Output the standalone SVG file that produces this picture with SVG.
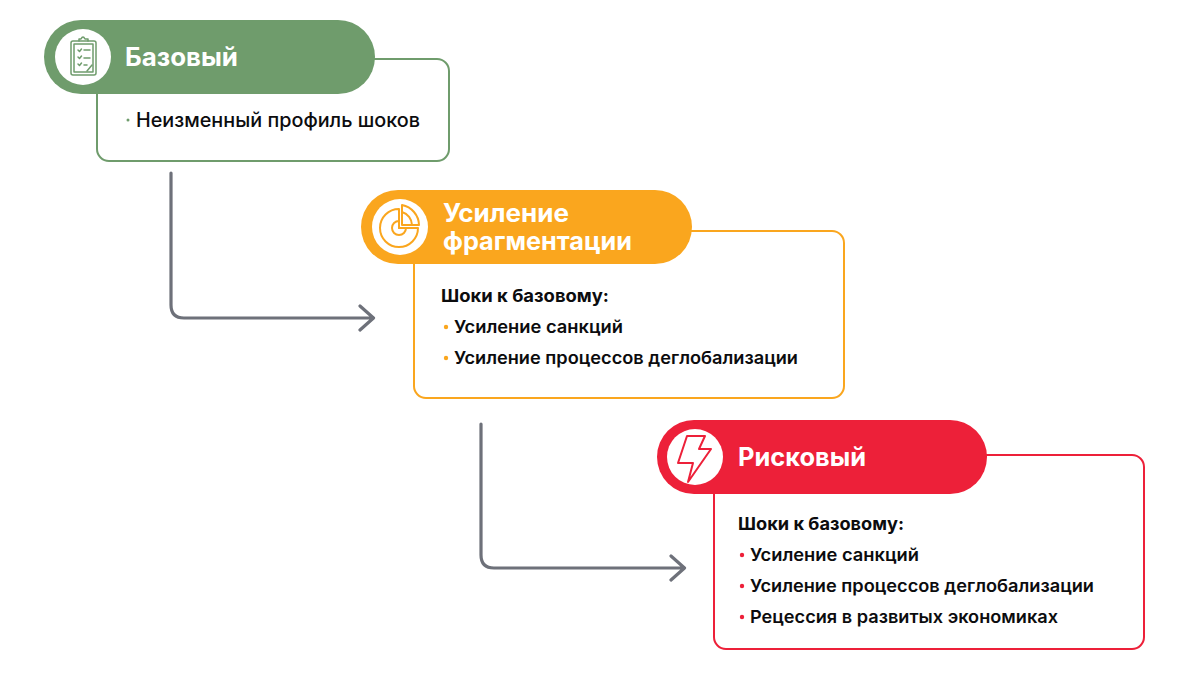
<svg xmlns="http://www.w3.org/2000/svg" width="1200" height="684" viewBox="0 0 1200 684">
<style>
text{font-family:"Inter","Liberation Sans",sans-serif}
.t{font-size:25px;font-weight:700;fill:#fff}
.b{font-size:17.500px;font-weight:600;fill:#0c0c0e}
.h{font-size:17.500px;font-weight:700;fill:#0c0c0e}
.card{fill:#fff;stroke-width:2}
.conn{fill:none;stroke:#6e717a;stroke-width:3.2;stroke-linecap:round;stroke-linejoin:round}
.ic{fill:none;stroke-width:2;stroke-linecap:round;stroke-linejoin:round}
</style>
<rect width="1200" height="684" fill="#fff"/>
<g id="connectors" class="conn">
<path d="M171 173V305Q171 318 184 318H373M360 306L373.500 318L360 330"/>
<path d="M481 424V555Q481 568 494 568H684M671 556L684.500 568L671 580"/>
</g>
<g id="node-base">
<rect class="card" x="97" y="59" width="352" height="102" rx="12" stroke="#6f9c6c"/>
<rect x="44" y="20" width="331" height="74" rx="37" fill="#6f9c6c"/>
<circle cx="83" cy="57" r="28" fill="#fff"/>
<g class="ic" stroke="#6f9c6c" style="stroke-width:1.500">
<rect x="71" y="41" width="25" height="34" rx="2"/>
<rect x="74" y="44" width="19" height="28"/>
<path d="M79 41V39H81Q83 35 85 39H88V41M78 50L79.500 51.500L81.500 49M84 50H90M78 57L79.500 58.500L81.500 56M84 58H90M78 64L79.500 65.500L81.500 63M84 65H87M87 71L92 65"/>
</g>
<text class="t" x="125" y="66" textLength="113" lengthAdjust="spacingAndGlyphs">Базовый</text>
<circle cx="128" cy="120" r="1.500" fill="#6f9c6c"/>
<text x="136" y="127" font-size="19.500" font-weight="500" fill="#0c0c0e" textLength="284" lengthAdjust="spacingAndGlyphs">Неизменный профиль шоков</text>
</g>
<g id="node-fragmentation">
<rect class="card" x="414" y="231" width="430" height="167" rx="12" stroke="#faa61e"/>
<rect x="361" y="190" width="331" height="74" rx="37" fill="#faa61e"/>
<circle cx="400" cy="227" r="28" fill="#fff"/>
<g class="ic" stroke="#faa61e">
<path d="M399 209A19 19 0 1 0 418 228H399Z"/>
<path d="M399 221A7 7 0 1 0 406 228H399Z"/>
<path d="M402 205A21 21 0 0 1 419 225H402Z"/>
<path d="M402 212A14 14 0 0 1 412 225"/>
</g>
<text class="t" x="443" y="222" textLength="126" lengthAdjust="spacingAndGlyphs">Усиление</text>
<text class="t" x="443" y="250" textLength="189" lengthAdjust="spacingAndGlyphs">фрагментации</text>
<text class="h" x="441" y="302" textLength="168" lengthAdjust="spacingAndGlyphs">Шоки к базовому:</text>
<circle cx="446" cy="327" r="2.200" fill="#faa61e"/>
<text class="b" x="454" y="333" textLength="169" lengthAdjust="spacingAndGlyphs">Усиление санкций</text>
<circle cx="446" cy="358" r="2.200" fill="#faa61e"/>
<text class="b" x="454" y="364" textLength="344" lengthAdjust="spacingAndGlyphs">Усиление процессов деглобализации</text>
</g>
<g id="node-risk">
<rect class="card" x="714" y="455" width="430" height="194" rx="12" stroke="#ed2039"/>
<rect x="657" y="420" width="330" height="74" rx="37" fill="#ed2039"/>
<circle cx="695" cy="457" r="28" fill="#fff"/>
<path class="ic" stroke="#ed2039" d="M687 436H705L699 449H711L688 482L693 463H678Z"/>
<text class="t" x="738" y="466" textLength="128" lengthAdjust="spacingAndGlyphs">Рисковый</text>
<text class="h" x="738" y="530" textLength="166" lengthAdjust="spacingAndGlyphs">Шоки к базовому:</text>
<circle cx="742" cy="555" r="2.200" fill="#ed2039"/>
<text class="b" x="750" y="561" textLength="169" lengthAdjust="spacingAndGlyphs">Усиление санкций</text>
<circle cx="742" cy="586" r="2.200" fill="#ed2039"/>
<text class="b" x="750" y="592" textLength="344" lengthAdjust="spacingAndGlyphs">Усиление процессов деглобализации</text>
<circle cx="742" cy="617" r="2.200" fill="#ed2039"/>
<text class="b" x="750" y="623" textLength="308" lengthAdjust="spacingAndGlyphs">Рецессия в развитых экономиках</text>
</g>
</svg>
